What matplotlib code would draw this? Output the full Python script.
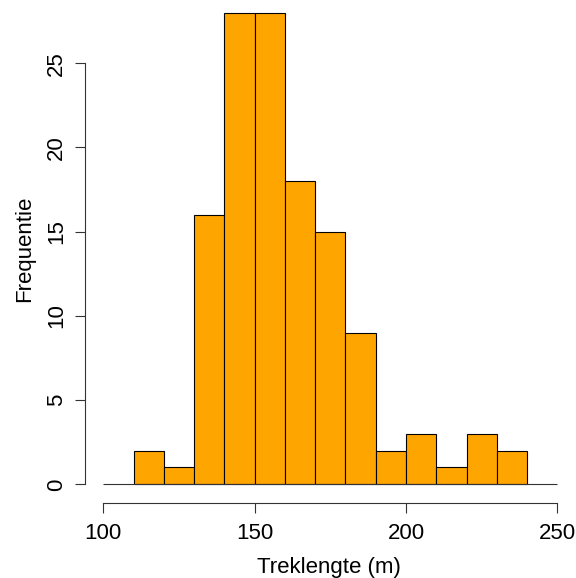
import numpy as np
import matplotlib.pyplot as plt

plt.rcParams['font.family'] = ['Liberation Sans', 'DejaVu Sans']

# histogram of track lengths, 10 m bins
bin_edges = np.arange(110, 250, 10)
counts = [2, 1, 16, 28, 28, 18, 15, 9, 2, 3, 1, 3, 2]
x_ticks = [100, 150, 200, 250]
y_ticks = [0, 5, 10, 15, 20, 25]

W, H = 576, 578
fig = plt.figure(figsize=(W / 100, H / 100), dpi=100)

# plot region in pixels (R style: 4% padding around the data range)
left, right = 85.1, 575.5
bottom, top = 503.2, -6.1
ax = fig.add_axes([left / W, (H - bottom) / H, (right - left) / W, (bottom - top) / H])
ax.set_xlim(94, 256)
ax.set_ylim(-1.12, 29.12)

ax.bar(bin_edges[:-1], counts, width=10, align='edge', color='#FFA500',
       edgecolor='black', linewidth=0.8)
ax.hlines(0, 100, 250, color='#333333', linewidth=0.8)

for s in ['top', 'right']:
    ax.spines[s].set_visible(False)
ax.spines['left'].set_bounds(0, 25)
ax.spines['bottom'].set_bounds(100, 250)
for s in ['left', 'bottom']:
    ax.spines[s].set_linewidth(0.8)
    ax.spines[s].set_color('#333333')

ax.set_xticks(x_ticks)
ax.set_yticks(y_ticks)
ax.tick_params(axis='both', length=7, width=0.8, color='#333333', labelsize=16)
ax.tick_params(axis='x', pad=7)
ax.tick_params(axis='y', pad=6)
for lbl in ax.get_yticklabels():
    lbl.set_rotation(90)
    lbl.set_va('center')

fig.text(329 / W, 1 - 568 / H, 'Treklengte (m)', ha='center', va='center', fontsize=16)
fig.text(25 / W, 1 - 249 / H, 'Frequentie', ha='center', va='center',
         rotation=90, fontsize=16)

fig.savefig('out.png', dpi=100)
